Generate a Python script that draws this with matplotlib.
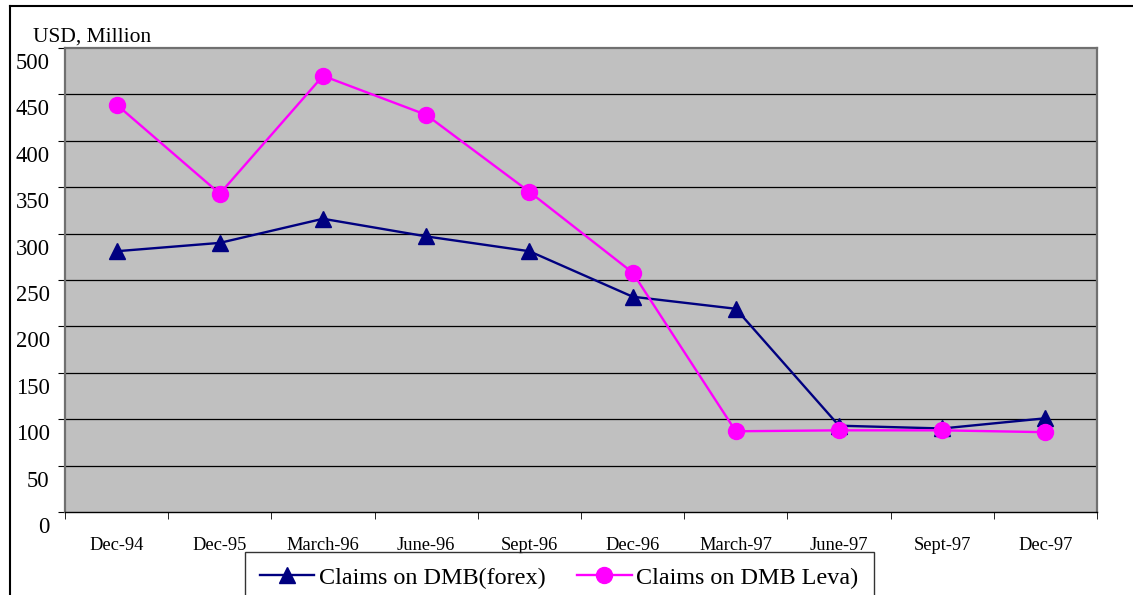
import numpy as np
import matplotlib
matplotlib.use('Agg')
import matplotlib.pyplot as plt
import matplotlib.transforms as mtrans
from matplotlib.lines import Line2D

plt.rcParams['font.family'] = ['Liberation Serif', 'DejaVu Serif']

categories = ['Dec-94', 'Dec-95', 'March-96', 'June-96', 'Sept-96',
              'Dec-96', 'March-97', 'June-97', 'Sept-97', 'Dec-97']
forex = [281, 290, 316, 297, 281, 232, 219, 93, 90, 101]
leva = [439, 343, 470, 428, 345, 258, 87, 88, 88, 86]
yticks = [0, 50, 100, 150, 200, 250, 300, 350, 400, 450, 500]

W, H = 1133, 595
fig = plt.figure(figsize=(W / 100, H / 100), dpi=100)
ax = fig.add_axes([65 / W, 1 - 512 / H, (1097 - 65) / W, (512 - 48) / H])
ax.set_facecolor('#C0C0C0')

x = np.arange(len(categories))
ax.plot(x, forex, color='#000080', lw=1.7, marker='^', markersize=11.5,
        label='Claims on DMB(forex)', zorder=3)
ax.plot(x, leva, color='#FF00FF', lw=1.7, marker='o', markersize=11.5,
        label='Claims on DMB Leva)', zorder=4)

ax.set_xlim(-0.5, len(categories) - 0.5)
ax.set_ylim(0, 500)
ax.set_yticks(yticks)
for v in yticks[1:-1]:
    ax.axhline(v, color='black', lw=0.9, zorder=1)

ax.set_xticks(x)
ax.set_xticklabels(categories, fontsize=13.3)
ax.set_xticks(np.arange(-0.5, len(categories), 1), minor=True)
ax.tick_params(axis='x', which='major', length=0, pad=18)
ax.tick_params(axis='x', which='minor', length=5, direction='out', color='black')
ax.tick_params(axis='y', length=5, direction='out', labelsize=16.3, pad=6)

# Excel puts the value labels a bit below their gridlines
shift = mtrans.ScaledTranslation(0, -13 / 100, fig.dpi_scale_trans)
for lbl in ax.get_yticklabels():
    lbl.set_transform(lbl.get_transform() + shift)

for s in ['left', 'top', 'right']:
    ax.spines[s].set_color('#707070')
    ax.spines[s].set_linewidth(1.6)
ax.spines['bottom'].set_color('black')
ax.spines['bottom'].set_linewidth(1.0)

fig.text(33 / W, 1 - 37 / H, 'USD, Million', fontsize=15.5, va='center', ha='left')

# outer chart border (top and left only visible)
fig.add_artist(Line2D([10 / W, 1], [1 - 6 / H, 1 - 6 / H], color='black', lw=1.5))
fig.add_artist(Line2D([10 / W, 10 / W], [0, 1 - 6 / H], color='black', lw=1.5))

leg = fig.legend(loc='upper left', bbox_to_anchor=(245 / W, 1 - 552 / H), ncol=2,
                 fontsize=17.4, frameon=True, fancybox=False, handlelength=2.25,
                 handletextpad=0.2, columnspacing=1.3, borderpad=0.62,
                 borderaxespad=0)
leg.get_frame().set_edgecolor('black')
leg.get_frame().set_linewidth(1.0)

fig.savefig('out.png', dpi=100)
